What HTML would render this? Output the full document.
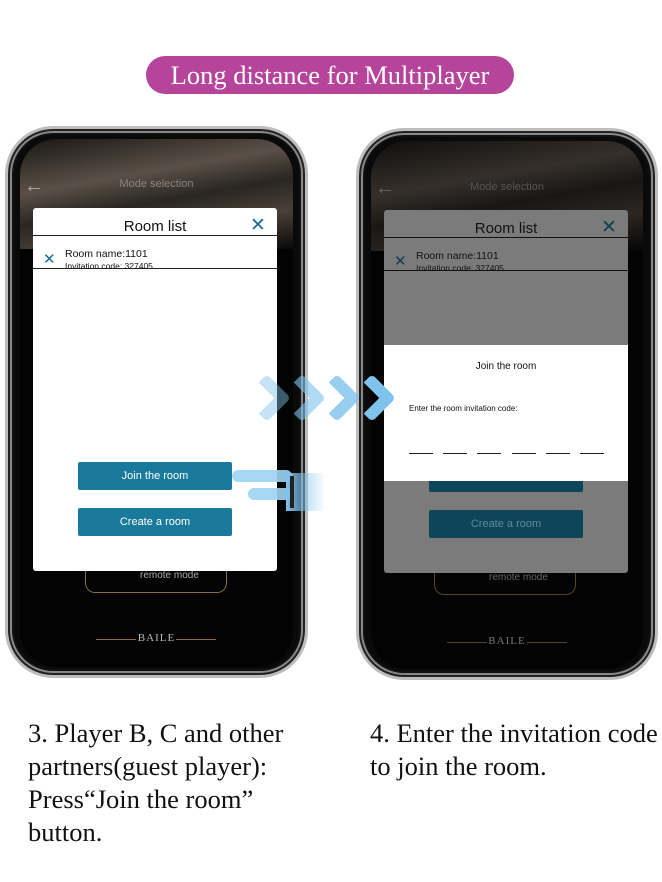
<!DOCTYPE html>
<html><head><meta charset="utf-8"><style>
*{margin:0;padding:0;box-sizing:border-box}
body{width:662px;height:882px;background:#fff;position:relative;overflow:hidden;font-family:"Liberation Sans",sans-serif}
.a{position:absolute}
.pill{left:146px;top:56px;width:368px;height:38px;border-radius:19px;background:#b5449a;color:#fff;font-family:"Liberation Serif",serif;font-size:26.5px;text-align:center;line-height:38px}
.body{border-radius:48px;background:#0a0a0a;border:3px solid #bdbdbd;box-shadow:inset 0 0 0 2px #222,inset 0 0 0 4px #888,inset 0 0 0 6px #111}
.scr{border-radius:36px;overflow:hidden;background:#030303}
.top{left:0;top:0;width:100%;height:110px;background:linear-gradient(170deg,#1a1714 0%,#5a5048 35%,#2a2622 55%,#4a4038 75%,#0a0908 100%)}
.mode{width:100%;text-align:center;font-size:11px;color:#8a8580}
.dlg{background:#fff;border-radius:3px}
.btn{background:#1a7a9b;color:#fff;font-size:11px;text-align:center;line-height:28px;border-radius:2px}
.ser{font-family:"Liberation Serif",serif;font-size:26.5px;line-height:33px;color:#111}
.chev{width:34px;height:34px;border-right:12px solid #7fc3ec;border-top:12px solid #7fc3ec;transform:rotate(45deg);border-radius:5px}
</style></head><body>
<div class="a pill">Long distance for Multiplayer</div>

<!-- phone 1 -->
<div class="a body" style="left:5px;top:126px;width:303px;height:552px"></div>
<div class="a scr" style="left:20px;top:139px;width:273px;height:528px">
 <div class="a top"></div>
 <div class="a" style="left:4px;top:36px;color:#aaa;font-size:20px">←</div>
 <div class="a mode" style="top:39px">Mode selection</div>
 <div class="a" style="left:65px;top:420px;width:142px;height:34px;border:1px solid #8a6a30;border-radius:10px;color:#aaa;font-size:10px;padding:10px 0 0 54px">remote mode</div>
 <div class="a" style="left:76px;top:500px;width:40px;border-top:1px solid #8a6a30"></div>
 <div class="a" style="left:156px;top:500px;width:40px;border-top:1px solid #8a6a30"></div>
 <div class="a" style="left:0;top:493px;width:273px;text-align:center;font-family:'Liberation Serif',serif;color:#bbb;font-size:11px;letter-spacing:1px">BAILE</div>
</div>
<div class="a dlg" style="left:33px;top:208px;width:244px;height:363px">
 <div class="a" style="left:0;top:10px;width:244px;text-align:center;font-size:15px;color:#111">Room list</div>
 <div class="a" style="left:217px;top:6px;font-size:19px;color:#1a6f8e">✕</div>
 <div class="a" style="left:0;top:27px;width:244px;border-top:1px solid #222"></div>
 <div class="a" style="left:10px;top:42px;font-size:15px;color:#1a6f8e">✕</div>
 <div class="a" style="left:32px;top:40px;font-size:10.5px;color:#111">Room name:1101</div>
 <div class="a" style="left:32px;top:53px;font-size:8.5px;color:#111">Invitation code: 327405</div>
 <div class="a" style="left:0;top:60px;width:244px;border-top:1px solid #222"></div>
 <div class="a btn" style="left:45px;top:254px;width:154px;height:28px">Join the room</div>
 <div class="a btn" style="left:45px;top:300px;width:154px;height:28px">Create a room</div>
</div>
<!-- hand -->
<div class="a" style="left:232px;top:470px;width:60px;height:12px;background:#9fd3f2;border-radius:6px;opacity:.9"></div>
<div class="a" style="left:248px;top:488px;width:44px;height:12px;background:#9fd3f2;border-radius:6px;opacity:.9"></div>
<div class="a" style="left:286px;top:473px;width:40px;height:38px;background:linear-gradient(90deg,#7fc3ec,rgba(127,195,236,0))"></div>
<div class="a" style="left:290px;top:476px;width:4px;height:32px;background:#222"></div>

<!-- phone 2 -->
<div class="a body" style="left:356px;top:128px;width:302px;height:552px"></div>
<div class="a scr" style="left:371px;top:141px;width:272px;height:528px">
 <div class="a top" style="filter:brightness(.6)"></div>
 <div class="a" style="left:4px;top:36px;color:#666;font-size:20px">←</div>
 <div class="a mode" style="top:40px;color:#555">Mode selection</div>
 <div class="a" style="left:63px;top:420px;width:142px;height:34px;border:1px solid #5a4520;border-radius:10px;color:#666;font-size:10px;padding:10px 0 0 54px">remote mode</div>
 <div class="a" style="left:76px;top:501px;width:40px;border-top:1px solid #5a4520"></div>
 <div class="a" style="left:156px;top:501px;width:40px;border-top:1px solid #5a4520"></div>
 <div class="a" style="left:0;top:494px;width:272px;text-align:center;font-family:'Liberation Serif',serif;color:#777;font-size:11px;letter-spacing:1px">BAILE</div>
</div>
<div class="a" style="left:384px;top:210px;width:244px;height:363px;background:#7b7b7b;border-radius:3px">
 <div class="a" style="left:0;top:10px;width:244px;text-align:center;font-size:15px;color:#111">Room list</div>
 <div class="a" style="left:217px;top:6px;font-size:19px;color:#0f3f52">✕</div>
 <div class="a" style="left:0;top:27px;width:244px;border-top:1px solid #111"></div>
 <div class="a" style="left:10px;top:42px;font-size:15px;color:#0f3f52">✕</div>
 <div class="a" style="left:32px;top:40px;font-size:10.5px;color:#111">Room name:1101</div>
 <div class="a" style="left:32px;top:53px;font-size:8.5px;color:#111">Invitation code: 327405</div>
 <div class="a" style="left:0;top:60px;width:244px;border-top:1px solid #111"></div>
 <div class="a" style="left:45px;top:254px;width:154px;height:28px;background:#0f4558;border-radius:2px"></div>
 <div class="a" style="left:45px;top:300px;width:154px;height:28px;background:#0f4558;border-radius:2px;color:#5f8a9a;font-size:11px;text-align:center;line-height:28px">Create a room</div>
</div>
<div class="a" style="left:384px;top:345px;width:244px;height:136px;background:#fff">
 <div class="a" style="left:0;top:16px;width:244px;text-align:center;font-size:10px;color:#111">Join the room</div>
 <div class="a" style="left:25px;top:59px;font-size:8px;color:#111">Enter the room invitation code:</div>
 <div class="a" style="left:25px;top:108px;width:24px;border-top:1px solid #222"></div>
 <div class="a" style="left:59px;top:108px;width:24px;border-top:1px solid #222"></div>
 <div class="a" style="left:93px;top:108px;width:24px;border-top:1px solid #222"></div>
 <div class="a" style="left:128px;top:108px;width:24px;border-top:1px solid #222"></div>
 <div class="a" style="left:162px;top:108px;width:24px;border-top:1px solid #222"></div>
 <div class="a" style="left:196px;top:108px;width:24px;border-top:1px solid #222"></div>
</div>

<!-- chevrons -->
<div class="a chev" style="left:250px;top:381px;opacity:.45"></div>
<div class="a chev" style="left:285px;top:381px;opacity:.6"></div>
<div class="a chev" style="left:320px;top:381px;opacity:.8"></div>
<div class="a chev" style="left:355px;top:381px;opacity:1"></div>

<div class="a ser" style="left:28px;top:717px;width:330px;white-space:nowrap">3. Player B, C and other<br>partners(guest player):<br>Press“Join the room”<br>button.</div>
<div class="a ser" style="left:370px;top:717px;width:300px;white-space:nowrap">4. Enter the invitation code<br>to join the room.</div>
</body></html>
